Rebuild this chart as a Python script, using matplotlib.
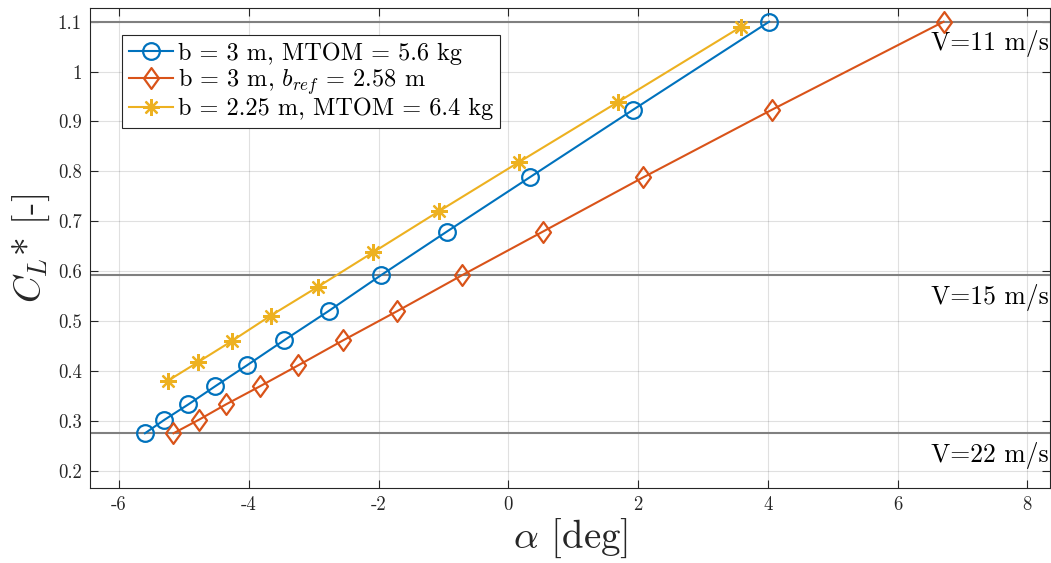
import matplotlib
matplotlib.use('Agg')
import matplotlib.pyplot as plt
from matplotlib.path import Path
import numpy as np

plt.rcParams['font.family'] = 'serif'
plt.rcParams['font.serif'] = ['cmr10', 'DejaVu Serif']
plt.rcParams['mathtext.fontset'] = 'cm'
plt.rcParams['axes.formatter.use_mathtext'] = True
plt.rcParams['axes.unicode_minus'] = False

# data
alpha_b3 = [-5.60, -5.30, -4.93, -4.52, -4.03, -3.46, -2.77, -1.96, -0.95, 0.33, 1.93, 4.02]
cl_b3 = [0.275, 0.302, 0.333, 0.369, 0.411, 0.461, 0.520, 0.592, 0.679, 0.788, 0.924, 1.100]

alpha_bref = [-5.16, -4.77, -4.35, -3.83, -3.24, -2.55, -1.71, -0.71, 0.53, 2.08, 4.07, 6.71]
cl_bref = [0.275, 0.302, 0.333, 0.369, 0.411, 0.461, 0.520, 0.592, 0.679, 0.788, 0.924, 1.100]

alpha_b225 = [-5.25, -4.79, -4.26, -3.66, -2.93, -2.08, -1.07, 0.17, 1.69, 3.59]
cl_b225 = [0.380, 0.417, 0.460, 0.511, 0.569, 0.638, 0.720, 0.819, 0.939, 1.090]

labels = ['b = 3 m, MTOM = 5.6 kg',
          'b = 3 m, $b_{ref}$ = 2.58 m',
          'b = 2.25 m, MTOM = 6.4 kg']

speed_cl = [1.100, 0.592, 0.275]
speed_txt = ['V=11 m/s', 'V=15 m/s', 'V=22 m/s']

xticks = [-6, -4, -2, 0, 2, 4, 6, 8]
yticks = [0.2, 0.3, 0.4, 0.5, 0.6, 0.7, 0.8, 0.9, 1.0, 1.1]
ytick_lbl = ['0.2', '0.3', '0.4', '0.5', '0.6', '0.7', '0.8', '0.9', '1', '1.1']

c_blue = '#0072BD'
c_red = '#D95319'
c_yel = '#EDB120'
dark = (0.15, 0.15, 0.15)

# matlab style diamond, a bit taller than wide
diamond = Path([(0, 1), (0.72, 0), (0, -1), (-0.72, 0), (0, 1)],
               [Path.MOVETO, Path.LINETO, Path.LINETO, Path.LINETO, Path.CLOSEPOLY])

fig = plt.figure(figsize=(10.51, 5.63), dpi=100)
ax = fig.add_axes([90/1051, 75/563, 960/1051, 480/563])

ax.set_xlim(-6.447, 8.35)
ax.set_ylim(0.1653, 1.1275)

ax.grid(True, color='k', alpha=0.12, lw=0.8)
ax.set_axisbelow(True)

for v, t in zip(speed_cl, speed_txt):
    ax.axhline(v, color=(0.5, 0.5, 0.5), lw=1.5, zorder=2)
    ax.text(8.33, v - 0.017, t, ha='right', va='top', fontsize=18.5, color='k', zorder=3)

ax.plot(alpha_b3, cl_b3, '-o', color=c_blue, lw=1.5, ms=12, mfc='none', mew=1.6, label=labels[0], zorder=4)
ax.plot(alpha_bref, cl_bref, '-', marker=diamond, color=c_red, lw=1.5, ms=15, mfc='none', mew=1.6, label=labels[1], zorder=4)
ax.plot(alpha_b225, cl_b225, '-', marker=(8, 2, 0), color=c_yel, lw=1.5, ms=12, mew=1.6, label=labels[2], zorder=4)

ax.set_xticks(xticks)
ax.set_xticklabels([str(x) for x in xticks])
ax.set_yticks(yticks)
ax.set_yticklabels(ytick_lbl)
ax.tick_params(direction='in', top=True, right=True, length=6, width=0.8,
               labelsize=13.5, colors=dark, labelcolor=dark, pad=6)

for s in ax.spines.values():
    s.set_color(dark)
    s.set_linewidth(0.8)

ax.set_xlabel(r'$\alpha$ [deg]', fontsize=28, color=dark, labelpad=2)
ax.set_ylabel(r'$C_L$* [-]', fontsize=27, color=dark, labelpad=4)

leg = ax.legend(loc='upper left', bbox_to_anchor=(32/960, 1 - 27/480), fontsize=17.5,
                handlelength=1.8, handletextpad=0.2, borderpad=0.3, labelspacing=0.05,
                fancybox=False, framealpha=1, edgecolor=dark, borderaxespad=0)
leg.get_frame().set_linewidth(0.8)

fig.savefig('out.png', dpi=100)
